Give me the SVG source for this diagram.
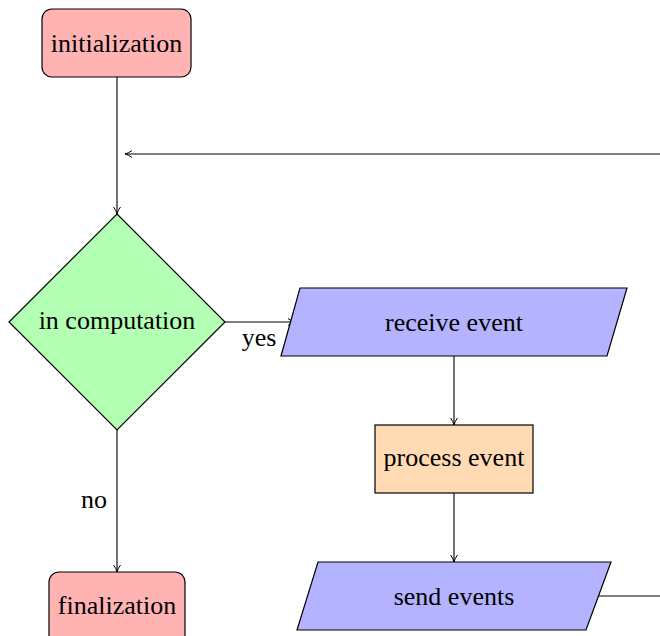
<svg xmlns="http://www.w3.org/2000/svg" width="660" height="636" viewBox="0 0 660 636">
  <style>
    .node { stroke: #000; stroke-width: 1.2; }
    .start { fill: #ffb3b3; }
    .decision { fill: #b3ffb3; }
    .io { fill: #b3b3ff; }
    .process { fill: #ffdab3; }
    .label { font-family: "Liberation Serif", "Times New Roman", serif; font-size: 26px; fill: #000; text-anchor: middle; dominant-baseline: central; }
    .edge { fill: none; stroke: #000; stroke-width: 1.1; }
  </style>
  <defs>
    <marker id="arrow" viewBox="0 0 10 10" refX="9" refY="5" markerWidth="10" markerHeight="10" markerUnits="userSpaceOnUse" orient="auto">
      <path d="M2,1.5 Q5,4 9,5 Q5,6 2,8.5" fill="none" stroke="#000" stroke-width="1"/>
    </marker>
  </defs>

  <rect width="660" height="636" fill="#fff"/>

  <g id="connectors">
    <line class="edge" x1="117" y1="77" x2="117" y2="214" marker-end="url(#arrow)"/>
    <line class="edge" x1="660" y1="154" x2="125" y2="154" marker-end="url(#arrow)"/>
    <line class="edge" x1="225" y1="322" x2="295" y2="322" marker-end="url(#arrow)"/>
    <text class="label" x="259" y="337">yes</text>
    <line class="edge" x1="454" y1="356" x2="454" y2="425" marker-end="url(#arrow)"/>
    <line class="edge" x1="454" y1="493" x2="454" y2="562" marker-end="url(#arrow)"/>
    <line class="edge" x1="598" y1="596" x2="660" y2="596"/>
    <line class="edge" x1="117" y1="430" x2="117" y2="572" marker-end="url(#arrow)"/>
    <text class="label" x="94" y="499">no</text>
  </g>

  <g id="initialization">
    <rect class="node start" x="42" y="9" width="149" height="68" rx="10"/>
    <text class="label" x="116.5" y="43">initialization</text>
  </g>

  <g id="in-computation">
    <polygon class="node decision" points="117,214 225,322 117,430 9,322"/>
    <text class="label" x="117" y="320">in computation</text>
  </g>

  <g id="receive-event">
    <polygon class="node io" points="300,288 627,288 607,356 281,356"/>
    <text class="label" x="454" y="322">receive event</text>
  </g>

  <g id="process-event">
    <rect class="node process" x="375" y="425" width="158" height="68"/>
    <text class="label" x="454" y="457">process event</text>
  </g>

  <g id="send-events">
    <polygon class="node io" points="318,562 611,562 586,630 297,630"/>
    <text class="label" x="454" y="596">send events</text>
  </g>

  <g id="finalization">
    <rect class="node start" x="49" y="572" width="136" height="80" rx="10"/>
    <text class="label" x="117" y="605">finalization</text>
  </g>
</svg>
